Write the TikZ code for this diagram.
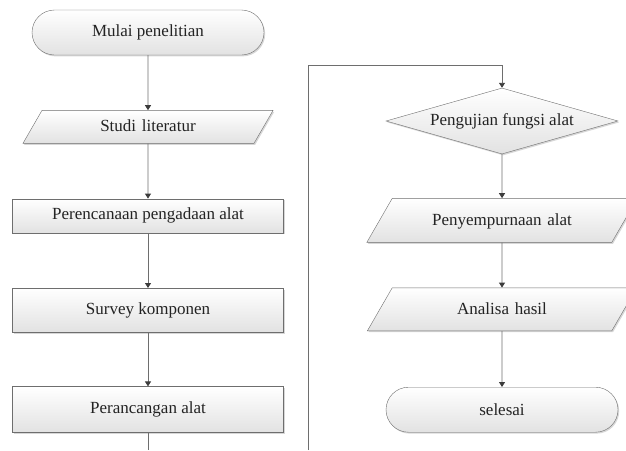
\documentclass[tikz,border=0pt]{standalone}
\usepackage{fontspec}
\setmainfont{Liberation Serif}
\usetikzlibrary{positioning,arrows.meta,shapes.geometric,shapes.misc,shadows}
\definecolor{garis}{RGB}{110,110,110}
\definecolor{panah}{RGB}{60,60,60}
\definecolor{isi}{RGB}{226,226,226}
\definecolor{teks}{RGB}{35,35,35}

\begin{document}
\begin{tikzpicture}[x=1pt, y=-1pt,
  base/.style={draw=garis, top color=white, bottom color=isi, text=teks, inner sep=0pt,
    font=\fontsize{17}{20}\selectfont,
    drop shadow={shadow xshift=1.2pt, shadow yshift=-1.4pt, fill=gray!45, opacity=.7}},
  term/.style={base, rounded rectangle, minimum width=232pt},
  io/.style={base, trapezium, trapezium left angle=60, trapezium right angle=120, align=center},
  proc/.style={base, rectangle, minimum width=271pt},
  dec/.style={base, diamond, aspect=3.5, minimum width=232pt, minimum height=66pt},
  garis/.style={draw=garis, line width=.9pt},
  arr/.style={garis, -{Triangle[width=6pt, length=5pt, color=panah]}},
]
\useasboundingbox (0,0) rectangle (626,450);
% kolom kiri
\node[term, minimum height=45pt] (mulai) at (148,32.5) {Mulai penelitian};
\node[io, text width=212pt, text height=21.5pt, text depth=11.5pt, below=55pt of mulai] (studi) {Studi literatur};
\node[proc, minimum height=34pt, below=55pt of studi] (rencana) {Perencanaan pengadaan alat};
\node[proc, minimum height=44pt, below=55pt of rencana] (survey) {Survey komponen};
\node[proc, minimum height=46pt, below=54pt of survey] (rancang) {Perancangan alat};
\coordinate (keluar) at (148,450);
% kolom kanan
\node[dec] (uji) at (502,121) {Pengujian fungsi alat};
\node[io, text width=219.6pt, text height=27pt, text depth=17pt, below=44pt of uji] (sempurna) {Penyempurnaan alat};
\node[io, text width=219.6pt, text height=26.5pt, text depth=16.5pt, below=45pt of sempurna] (analisa) {Analisa hasil};
\node[term, minimum height=45pt, below=56pt of analisa] (selesai) {selesai};
\coordinate (masuk) at (308,450);
\coordinate (belok) at (308,65);

\draw[arr] (mulai) -- (studi);
\draw[arr] (studi) -- (rencana);
\draw[arr] (rencana) -- (survey);
\draw[arr] (survey) -- (rancang);
\draw[garis] (rancang) -- (keluar);
\draw[arr] (masuk) -- (belok) -| (uji);
\draw[arr] (uji) -- (sempurna);
\draw[arr] (sempurna) -- (analisa);
\draw[arr] (analisa) -- (selesai);
\end{tikzpicture}
\end{document}
